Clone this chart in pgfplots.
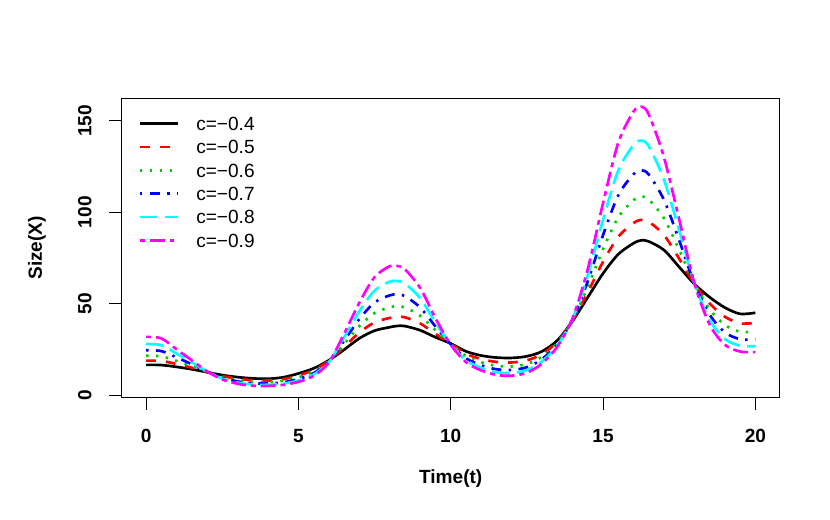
\documentclass[border=0pt]{standalone}
\usepackage{fontspec}
\setmainfont{Liberation Sans}
\usepackage{pgfplots}
\pgfplotsset{compat=1.18}
\usepackage{pgfplotstable}
\definecolor{rred}{RGB}{255,0,0}
\definecolor{rgreen}{RGB}{0,205,0}
\definecolor{rblue}{RGB}{0,0,255}
\definecolor{rcyan}{RGB}{0,255,255}
\definecolor{rmagenta}{RGB}{255,0,255}

\pgfplotstableread{
t     c4    c5     c6     c7     c8     c9
0     16.5  18.81  21.45  24.46  27.89  31.8
0.5   16.4  18.63  21.16  24.03  27.29  31.0
1.0   15.4  16.97  18.69  20.60  22.69  25.0
1.5   14.1  14.97  15.89  16.86  17.90  19.0
2.0   12.5  12.60  12.70  12.80  12.90  13.0
2.5   10.9  10.37  9.87   9.39   8.93   8.5
3.0   9.8   8.94   8.16   7.45   6.80   6.2
3.5   9.1   8.10   7.22   6.43   5.73   5.1
4.0   8.9   7.93   7.07   6.30   5.61   5.0
4.5   9.7   8.69   7.79   6.98   6.25   5.6
5.0   11.8  10.69  9.68   8.77   7.95   7.2
5.5   14.6  13.67  12.80  11.98  11.21  10.5
6.0   19.0  18.75  18.51  18.27  18.03  17.8
6.5   24.8  26.34  27.97  29.70  31.55  33.5
7.0   31.0  34.18  37.68  41.55  45.81  50.5
7.5   35.2  39.73  44.85  50.62  57.14  64.5
8.0   37.1  42.18  47.96  54.53  62.00  70.5
8.25  37.8  42.83  48.53  54.99  62.31  70.6
8.5   37.7  42.51  47.93  54.04  60.93  68.7
9.0   35.4  39.14  43.28  47.85  52.91  58.5
9.5   31.6  33.45  35.41  37.48  39.68  42.0
10.0  28.2  28.06  27.92  27.78  27.64  27.5
10.5  23.9  22.58  21.34  20.16  19.05  18.0
11.0  21.6  19.66  17.90  16.29  14.83  13.5
11.5  20.5  18.10  15.98  14.11  12.46  11.0
12.0  20.3  17.83  15.65  13.75  12.07  10.6
12.5  21.2  18.98  17.00  15.22  13.63  12.2
13.0  23.9  22.40  21.00  19.69  18.46  17.3
13.5  29.9  29.19  28.49  27.81  27.15  26.5
14.0  40.5  40.80  41.09  41.39  41.70  42.0
14.5  53.5  56.29  59.23  62.32  65.57  69.0
15.0  66.5  72.86  79.83  87.46  95.83  105.0
15.5  77.0  86.53  97.24  109.27 122.79 138.0
16.0  83.0  94.04  106.56 120.73 136.79 155.0
16.25 84.6  95.8   108.5  122.9  139.2  157.7
16.5  84.0  94.77  106.92 120.60 136.06 153.5
17.0  79.3  87.54  96.64  106.68 117.76 130.0
17.5  70.0  74.57  79.42  84.60  90.12  96.0
18.0  60.7  60.76  60.82  60.88  60.94  61.0
18.5  53.5  50.09  46.90  43.92  41.12  38.5
19.0  47.8  42.80  38.32  34.31  30.72  27.5
19.5  44.4  39.20  34.60  30.54  26.96  23.8
20.0  45.0  39.51  34.70  30.47  26.76  23.5
}\datatable

\begin{document}
\begin{tikzpicture}
\useasboundingbox (0,0) rectangle (622.5pt,390pt);
\begin{axis}[
  at={(91.3pt,92.0pt)}, anchor=south west,
  scale only axis, width=493.5pt, height=224.3pt,
  xmin=-0.8, xmax=20.8, ymin=-1.25, ymax=162.3,
  xtick={0,5,10,15,20}, ytick={0,50,100,150},
  tick align=outside, tick pos=left,
  major tick length=9.4pt,
  every tick/.style={black, line width=0.75pt},
  axis line style={line width=0.75pt},
  /pgf/number format/assume math mode=true,
  tick label style={font=\fontsize{14.3}{17}\selectfont\bfseries, inner sep=0pt},
  xticklabel style={anchor=north},
  xticklabel shift=14.1pt,
  yticklabel style={rotate=90, anchor=south},
  yticklabel shift=13.1pt,
  xlabel={Time(t)}, ylabel={Size(X)},
  label style={font=\fontsize{14.3}{17}\selectfont\bfseries},
  xlabel style={at={(axis description cs:0.5,-0.2709)}, anchor=center},
  ylabel style={at={(axis description cs:-0.1287,0.5)}, anchor=center},
  legend cell align=left,
  legend image code/.code={\draw[#1] (0pt,0pt) -- (28.8pt,0pt);},
  legend style={at={(axis description cs:0.0252,0.9395)}, anchor=north west,
    draw=none, fill=none, inner sep=0pt, row sep=7.1pt,
    font=\fontsize{14.3}{17}\selectfont,
    nodes={inner sep=0pt, text height=10.4pt, text depth=0pt},
    /tikz/every odd column/.append style={column sep=12.5pt}},
  no markers,
]
\addplot[black, line width=2pt, smooth] table[x=t,y=c4]{\datatable};
\addlegendentry{c=−0.4}
\addplot[rred, line width=2pt, smooth, dash pattern=on 7.4pt off 7.4pt] table[x=t,y=c5]{\datatable};
\addlegendentry{c=−0.5}
\addplot[rgreen, line width=2pt, smooth, dash pattern=on 1.85pt off 5.55pt] table[x=t,y=c6]{\datatable};
\addlegendentry{c=−0.6}
\addplot[rblue, line width=2pt, smooth, dash pattern=on 1.85pt off 5.55pt on 7.4pt off 5.55pt] table[x=t,y=c7]{\datatable};
\addlegendentry{c=−0.7}
\addplot[rcyan, line width=2pt, smooth, dash pattern=on 12.95pt off 5.55pt] table[x=t,y=c8]{\datatable};
\addlegendentry{c=−0.8}
\addplot[rmagenta, line width=2pt, smooth, dash pattern=on 3.7pt off 3.7pt on 11.1pt off 3.7pt] table[x=t,y=c9]{\datatable};
\addlegendentry{c=−0.9}
\end{axis}
\end{tikzpicture}
\end{document}
